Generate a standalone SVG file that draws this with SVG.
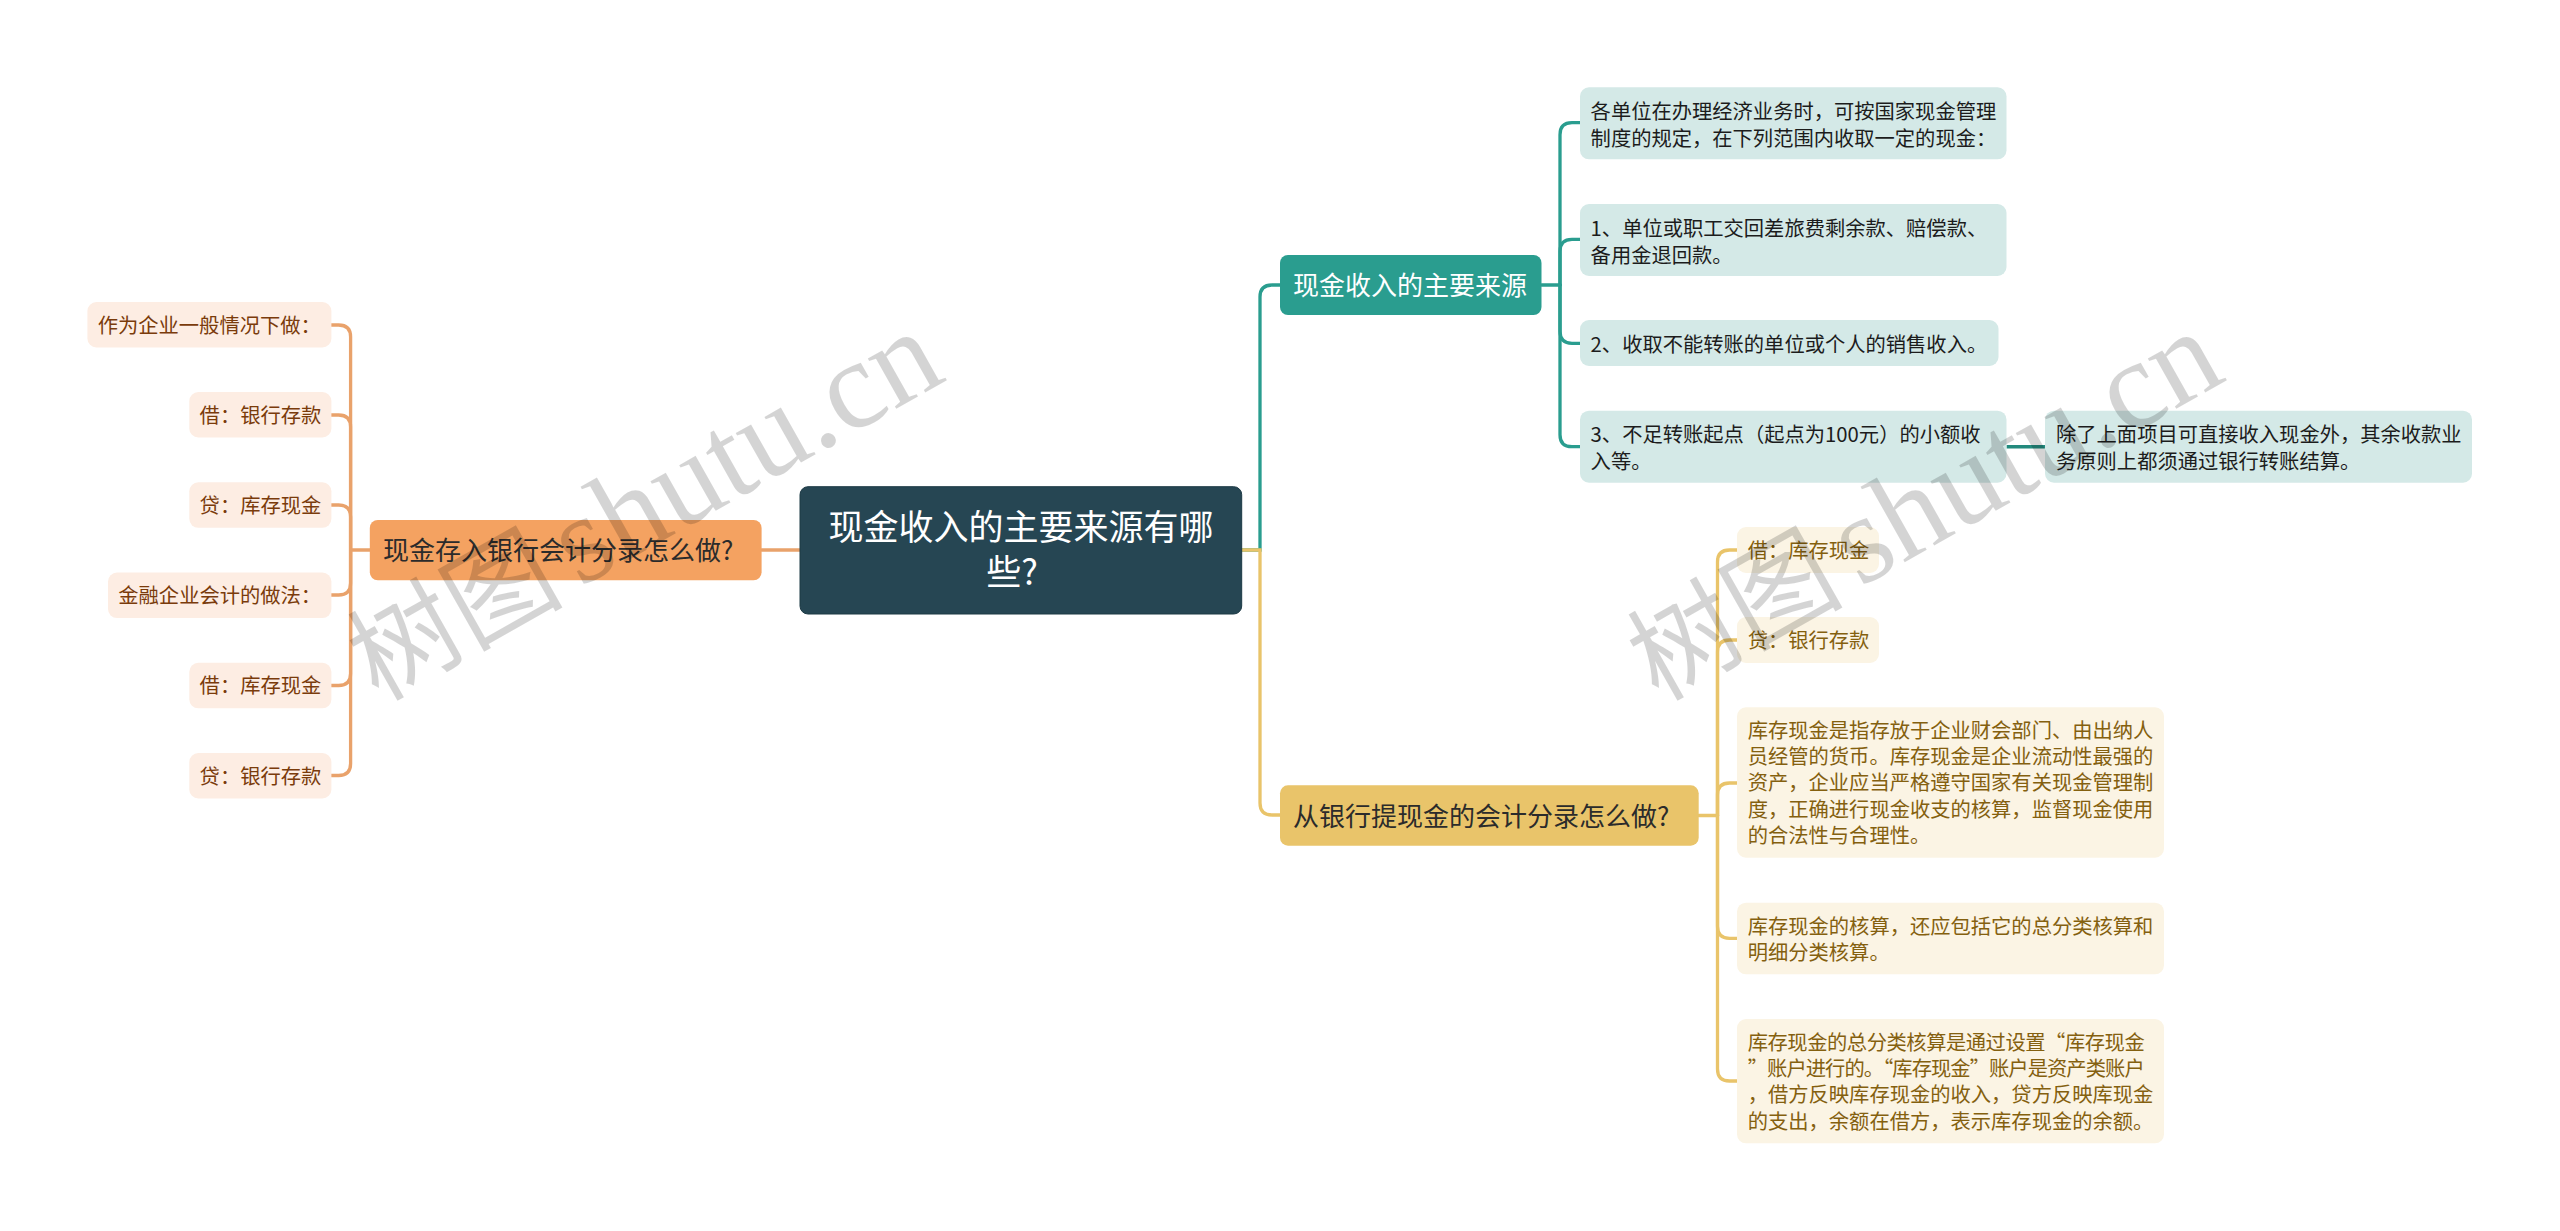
<svg xmlns="http://www.w3.org/2000/svg" width="2560" height="1231" viewBox="0 0 2560 1231">
<style>
text{font-family:"Noto Sans CJK SC","Noto Sans",sans-serif;font-size:20.3px}
.c{fill:none;stroke-width:3.300;stroke-linecap:round}
.cg{stroke:#2a9d8f}.cy{stroke:#e9c46a}.co{stroke:#e9a26b}
.root rect{fill:#264653;stroke:#1d3a45;stroke-width:1}
.root text{fill:#fff;font-size:35px;text-anchor:middle}
.l1 text{font-size:26px;fill:#2b2b2b}
.lg rect{fill:#2a9d8f}.lg text{fill:#fff}
.ly rect{fill:#e9c46a}
.lo rect{fill:#f4a261}
.dg rect{fill:#d4e9e7}.dg text{fill:#1c1c1c}
.dy rect{fill:#fbf4e4}.dy text{fill:#84600f}
.do rect{fill:#fdede3}.do text{fill:#7a3b0b}
.wm{font-family:"Liberation Serif","Noto Sans CJK SC",serif;font-size:108px;fill:#000;fill-opacity:.17}
.wm .la{font-size:126px}
</style>
<g id="connectors">
<path class="c cg" d="M1241.7 550H1260V297Q1260 285 1272 285H1280"/>
<path class="c cy" d="M1241.7 550H1260V803Q1260 815 1272 815H1280"/>
<path class="c co" d="M800 550H761.6"/>
<path class="c cg" d="M1541.5 285H1560"/>
<path class="c cg" d="M1560 285V134.700Q1560 122.700 1572 122.700H1580"/>
<path class="c cg" d="M1560 285V251.300Q1560 239.300 1572 239.300H1580"/>
<path class="c cg" d="M1560 285V331.300Q1560 343.300 1572 343.300H1580"/>
<path class="c cg" d="M1560 285V434.700Q1560 446.700 1572 446.700H1580"/>
<path d="M2006.500 446.700H2045" fill="none" stroke="#238a7d" stroke-width="3.500"/>
<path class="c cy" d="M1698.700 815.500H1717.500"/>
<path class="c cy" d="M1717.500 815.500V562Q1717.500 550 1729.500 550H1737"/>
<path class="c cy" d="M1717.500 815.500V652Q1717.500 640 1729.500 640H1737"/>
<path class="c cy" d="M1717.500 815.500V795Q1717.500 783 1729.500 783H1737"/>
<path class="c cy" d="M1717.500 815.500V926.300Q1717.500 938.300 1729.500 938.300H1737"/>
<path class="c cy" d="M1717.500 815.500V1069Q1717.500 1081 1729.500 1081H1737"/>
<path class="c co" d="M369.800 550H350.600"/>
<path class="c co" d="M350.600 550V337Q350.600 325 338.600 325H331.400"/>
<path class="c co" d="M350.600 550V427Q350.600 415 338.600 415H331.400"/>
<path class="c co" d="M350.600 550V517Q350.600 505 338.600 505H331.400"/>
<path class="c co" d="M350.600 550V583Q350.600 595 338.600 595H331.400"/>
<path class="c co" d="M350.600 550V673.500Q350.600 685.500 338.600 685.500H331.400"/>
<path class="c co" d="M350.600 550V763.500Q350.600 775.500 338.600 775.500H331.400"/>
</g>
<g id="root" class="root"><rect x="800" y="486.700" width="441.700" height="127.300" rx="8"/><text x="1021" y="540">现金收入的主要来源有哪</text><text x="1012" y="585">些?</text></g>
<g id="n-green" class="l1 lg"><rect x="1280" y="255" width="261.500" height="60" rx="8"/><text x="1293" y="295">现金收入的主要来源</text></g>
<g id="n-yellow" class="l1 ly"><rect x="1280" y="785.300" width="418.700" height="60.400" rx="8"/><text x="1293" y="826">从银行提现金的会计分录怎么做?</text></g>
<g id="n-orange" class="l1 lo"><rect x="369.800" y="520" width="391.800" height="60.300" rx="8"/><text x="383" y="560">现金存入银行会计分录怎么做?</text></g>
<g id="g1" class="dg"><rect x="1580" y="87.300" width="426.500" height="72" rx="9"/><text x="1590.600" y="119.300">各单位在办理经济业务时，可按国家现金管理</text><text x="1590.600" y="146">制度的规定，在下列范围内收取一定的现金：</text></g>
<g id="g2" class="dg"><rect x="1580" y="204" width="426.500" height="72" rx="9"/><text x="1590.600" y="236">1、单位或职工交回差旅费剩余款、赔偿款、</text><text x="1590.600" y="262.500">备用金退回款。</text></g>
<g id="g3" class="dg"><rect x="1580" y="320" width="418.500" height="46" rx="9"/><text x="1590.600" y="351.500">2、收取不能转账的单位或个人的销售收入。</text></g>
<g id="g4" class="dg"><rect x="1580" y="410.700" width="426.500" height="72" rx="9"/><text x="1590.600" y="442" textLength="390">3、不足转账起点（起点为100元）的小额收</text><text x="1590.600" y="468.500">入等。</text></g>
<g id="g5" class="dg"><rect x="2045" y="410.700" width="427" height="72" rx="9"/><text x="2056" y="442">除了上面项目可直接收入现金外，其余收款业</text><text x="2056" y="468.500">务原则上都须通过银行转账结算。</text></g>
<g id="y1" class="dy"><rect x="1737" y="527" width="142" height="46" rx="9"/><text x="1747.700" y="558">借：库存现金</text></g>
<g id="y2" class="dy"><rect x="1737" y="617" width="142" height="46" rx="9"/><text x="1747.700" y="648">贷：银行存款</text></g>
<g id="y3" class="dy"><rect x="1737" y="707.300" width="427" height="150.400" rx="9"/><text x="1747.700" y="738">库存现金是指存放于企业财会部门、由出纳人</text><text x="1747.700" y="764.200">员经管的货币。库存现金是企业流动性最强的</text><text x="1747.700" y="790.400">资产，企业应当严格遵守国家有关现金管理制</text><text x="1747.700" y="816.600">度，正确进行现金收支的核算，监督现金使用</text><text x="1747.700" y="842.800">的合法性与合理性。</text></g>
<g id="y4" class="dy"><rect x="1737" y="902.700" width="427" height="71.600" rx="9"/><text x="1747.700" y="933.500">库存现金的核算，还应包括它的总分类核算和</text><text x="1747.700" y="959.700">明细分类核算。</text></g>
<g id="y5" class="dy"><rect x="1737" y="1019" width="427" height="124.300" rx="9"/><text x="1747.700" y="1050" textLength="397">库存现金的总分类核算是通过设置“库存现金</text><text x="1747.700" y="1076.200" textLength="397">”账户进行的。“库存现金”账户是资产类账户</text><text x="1747.700" y="1102.400">，借方反映库存现金的收入，贷方反映库现金</text><text x="1747.700" y="1128.600">的支出，余额在借方，表示库存现金的余额。</text></g>
<g id="o1" class="do"><rect x="87.400" y="302" width="244" height="45.500" rx="9"/><text x="97.700" y="332.500">作为企业一般情况下做：</text></g>
<g id="o2" class="do"><rect x="189.300" y="392" width="142.100" height="45.500" rx="9"/><text x="199.600" y="422.500">借：银行存款</text></g>
<g id="o3" class="do"><rect x="189.300" y="482.300" width="142.100" height="45.500" rx="9"/><text x="199.600" y="512.800">贷：库存现金</text></g>
<g id="o4" class="do"><rect x="108" y="572.600" width="223.400" height="45.500" rx="9"/><text x="118.300" y="603">金融企业会计的做法：</text></g>
<g id="o5" class="do"><rect x="189.300" y="662.800" width="142.100" height="45.500" rx="9"/><text x="199.600" y="693.300">借：库存现金</text></g>
<g id="o6" class="do"><rect x="189.300" y="753" width="142.100" height="45.500" rx="9"/><text x="199.600" y="783.500">贷：银行存款</text></g>
<g id="watermarks"><text class="wm" transform="translate(378 702) rotate(-29.500)">树图<tspan class="la" x="232">shutu.cn</tspan></text><text class="wm" transform="translate(1658 702) rotate(-29.500)">树图<tspan class="la" x="232">shutu.cn</tspan></text></g>
</svg>
